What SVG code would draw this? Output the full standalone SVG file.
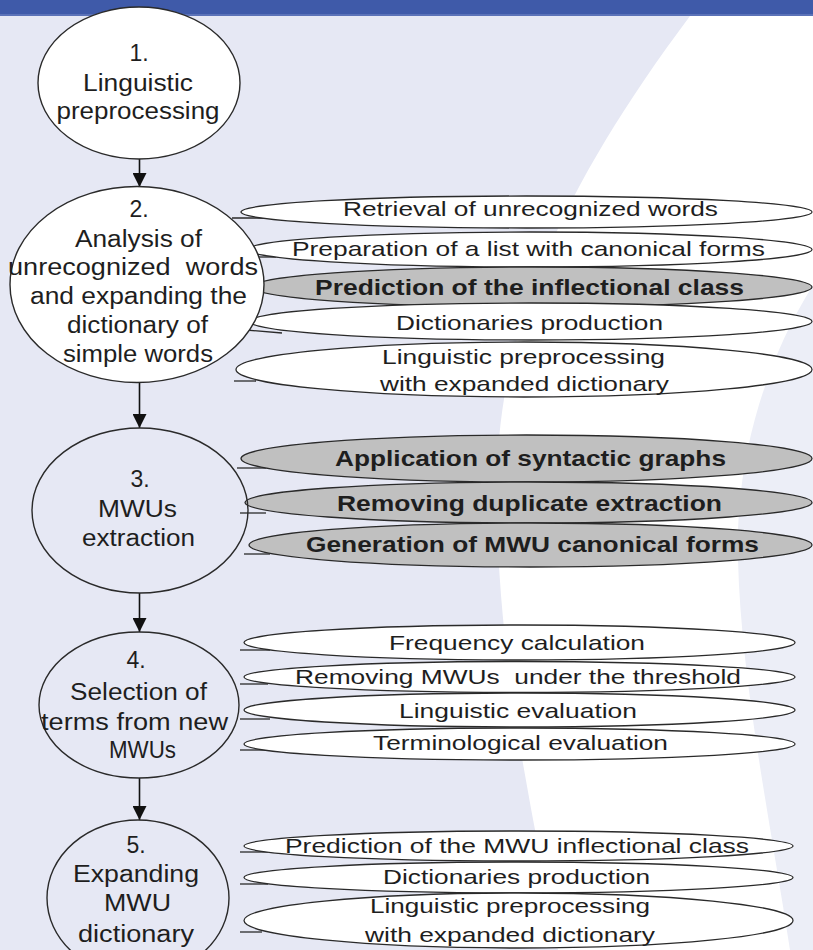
<svg xmlns="http://www.w3.org/2000/svg" width="813" height="950" viewBox="0 0 813 950">
<defs>
<style>
.ln{stroke:#2a2a2a;stroke-width:1.3}
.big{stroke:#2a2a2a;stroke-width:1.4}
.w{fill:#fff}
.n{fill:none}
.g{fill:#c0c0c0}
text{font-family:"Liberation Sans",Arial,sans-serif;fill:#1e1e1e;text-anchor:middle}
.t22{font-size:23px}
.t20{font-size:21px}
.b21{font-size:22px;font-weight:bold}
.conn{stroke:#111;stroke-width:1.6;fill:none}
.tail{stroke:#2a2a2a;stroke-width:1.3;fill:none}
</style>
<marker id="arr" viewBox="0 0 10 10" refX="10" refY="5" markerWidth="14" markerHeight="14" markerUnits="userSpaceOnUse" orient="auto"><path d="M0,0 L10,5 L0,10 z" fill="#111"/></marker>
</defs>

<g id="background">
<rect x="0" y="0" width="813" height="950" fill="#e6e8f4"/>
<path d="M690,16 L813,16 L813,950 L558,950 C530,800 495,650 497,480 C499,330 560,190 690,16 Z" fill="#ffffff"/>
<path d="M813,285 C760,370 735,470 738,560 C741,680 770,820 790,950 L813,950 Z" fill="#eceef7"/>
<rect x="0" y="0" width="813" height="15" fill="#3f5aa9"/>
<rect x="0" y="14" width="813" height="2" fill="#5b72b8"/>
</g>

<g id="connectors">
<line class="conn" x1="139.5" y1="159" x2="139.5" y2="187" marker-end="url(#arr)"/>
<line class="conn" x1="139.5" y1="383" x2="139.5" y2="428" marker-end="url(#arr)"/>
<line class="conn" x1="139.5" y1="593" x2="139.5" y2="632" marker-end="url(#arr)"/>
<line class="conn" x1="139.5" y1="778" x2="139.5" y2="820" marker-end="url(#arr)"/>
<line class="tail" x1="232" y1="218" x2="266" y2="218"/>
<line class="tail" x1="250" y1="257" x2="276" y2="257"/>
<line class="tail" x1="246" y1="330" x2="282" y2="333"/>
<line class="tail" x1="234" y1="381" x2="256" y2="381"/>
<line class="tail" x1="237" y1="468" x2="266" y2="468"/>
<line class="tail" x1="240" y1="513" x2="266" y2="513"/>
<line class="tail" x1="244" y1="554" x2="270" y2="554"/>
<line class="tail" x1="240" y1="650" x2="270" y2="650"/>
<line class="tail" x1="240" y1="684" x2="268" y2="684"/>
<line class="tail" x1="240" y1="719" x2="270" y2="719"/>
<line class="tail" x1="240" y1="750" x2="268" y2="750"/>
<line class="tail" x1="240" y1="852" x2="268" y2="852"/>
<line class="tail" x1="240" y1="884" x2="268" y2="884"/>
<line class="tail" x1="240" y1="932" x2="262" y2="932"/>
</g>

<g id="s2a"><ellipse class="ln w" cx="526.5" cy="212" rx="285.5" ry="16"/><text class="t20" x="530.5" y="216" textLength="375" lengthAdjust="spacingAndGlyphs">Retrieval of unrecognized words</text></g>
<g id="s2b"><ellipse class="ln w" cx="530" cy="249.5" rx="282" ry="17.5"/><text class="t20" x="528.5" y="256" textLength="473" lengthAdjust="spacingAndGlyphs">Preparation of a list with canonical forms</text></g>
<g id="s2c"><ellipse class="ln g" cx="532" cy="287" rx="280" ry="20"/><text class="b21" x="529.5" y="295" textLength="429" lengthAdjust="spacingAndGlyphs">Prediction of the inflectional class</text></g>
<g id="s2d"><ellipse class="ln w" cx="531" cy="321.5" rx="281" ry="18.5"/><text class="t20" x="529.5" y="330" textLength="267" lengthAdjust="spacingAndGlyphs">Dictionaries production</text></g>
<g id="s2e"><ellipse class="ln w" cx="524" cy="369.5" rx="288" ry="27.5"/><text class="t20" x="523.5" y="364" textLength="283" lengthAdjust="spacingAndGlyphs">Linguistic preprocessing</text><text class="t20" x="524.5" y="391" textLength="289" lengthAdjust="spacingAndGlyphs">with expanded dictionary</text></g>

<g id="s3a"><ellipse class="ln g" cx="526.5" cy="458.5" rx="285.5" ry="23.5"/><text class="b21" x="530.5" y="466" textLength="391" lengthAdjust="spacingAndGlyphs">Application of syntactic graphs</text></g>
<g id="s3b"><ellipse class="ln g" cx="528.5" cy="502.5" rx="283.5" ry="20.5"/><text class="b21" x="529.5" y="511" textLength="385" lengthAdjust="spacingAndGlyphs">Removing duplicate extraction</text></g>
<g id="s3c"><ellipse class="ln g" cx="530.5" cy="545" rx="281.5" ry="22"/><text class="b21" x="532.5" y="552" textLength="453" lengthAdjust="spacingAndGlyphs">Generation of MWU canonical forms</text></g>

<g id="s4a"><ellipse class="ln w" cx="519.5" cy="642.5" rx="275.5" ry="17.5"/><text class="t20" x="517" y="650" textLength="256" lengthAdjust="spacingAndGlyphs">Frequency calculation</text></g>
<g id="s4b"><ellipse class="ln w" cx="519.5" cy="677" rx="275.5" ry="15.5"/><text class="t20" x="518" y="684" textLength="446" lengthAdjust="spacingAndGlyphs" xml:space="preserve">Removing MWUs  under the threshold</text></g>
<g id="s4c"><ellipse class="ln w" cx="519.5" cy="710" rx="275.5" ry="17"/><text class="t20" x="518" y="718" textLength="238" lengthAdjust="spacingAndGlyphs">Linguistic evaluation</text></g>
<g id="s4d"><ellipse class="ln w" cx="519.5" cy="744" rx="275.5" ry="16"/><text class="t20" x="520.5" y="750" textLength="295" lengthAdjust="spacingAndGlyphs">Terminological evaluation</text></g>

<g id="s5a"><ellipse class="ln w" cx="518.5" cy="846" rx="274.5" ry="15"/><text class="t20" x="517" y="853" textLength="464" lengthAdjust="spacingAndGlyphs">Prediction of the MWU inflectional class</text></g>
<g id="s5b"><ellipse class="ln w" cx="518.5" cy="877.5" rx="274.5" ry="15.5"/><text class="t20" x="516.5" y="884" textLength="267" lengthAdjust="spacingAndGlyphs">Dictionaries production</text></g>
<g id="s5c"><ellipse class="ln w" cx="518.5" cy="920.5" rx="274.5" ry="27.5"/><text class="t20" x="510" y="913" textLength="280" lengthAdjust="spacingAndGlyphs">Linguistic preprocessing</text><text class="t20" x="510" y="942" textLength="290" lengthAdjust="spacingAndGlyphs">with expanded dictionary</text></g>

<g id="node1"><ellipse class="big w" cx="139" cy="83" rx="101" ry="76"/>
<text class="t22" x="139" y="61">1.</text>
<text class="t22" x="138" y="91" textLength="110" lengthAdjust="spacingAndGlyphs">Linguistic</text>
<text class="t22" x="138" y="119" textLength="163" lengthAdjust="spacingAndGlyphs">preprocessing</text></g>

<g id="node2"><ellipse class="big w" cx="137" cy="284.5" rx="127" ry="98"/>
<text class="t22" x="139" y="217">2.</text>
<text class="t22" x="138.5" y="247" textLength="127" lengthAdjust="spacingAndGlyphs">Analysis of</text>
<text class="t22" x="133" y="275" textLength="250" lengthAdjust="spacingAndGlyphs" xml:space="preserve">unrecognized  words</text>
<text class="t22" x="138.5" y="304" textLength="217" lengthAdjust="spacingAndGlyphs">and expanding the</text>
<text class="t22" x="137.5" y="333" textLength="141" lengthAdjust="spacingAndGlyphs">dictionary of</text>
<text class="t22" x="138" y="362" textLength="150" lengthAdjust="spacingAndGlyphs">simple words</text></g>

<g id="node3"><ellipse class="big n" cx="140" cy="510.5" rx="108" ry="82.5"/>
<text class="t22" x="140" y="487">3.</text>
<text class="t22" x="137.5" y="517" textLength="79" lengthAdjust="spacingAndGlyphs">MWUs</text>
<text class="t22" x="138.5" y="546" textLength="113" lengthAdjust="spacingAndGlyphs">extraction</text></g>

<g id="node4"><ellipse class="big n" cx="139" cy="705" rx="100" ry="73"/>
<text class="t22" x="136" y="668">4.</text>
<text class="t22" x="138.5" y="700" textLength="137" lengthAdjust="spacingAndGlyphs">Selection of</text>
<text class="t22" x="134.5" y="730" textLength="187" lengthAdjust="spacingAndGlyphs">terms from new</text>
<text class="t22" x="142.5" y="758" textLength="67" lengthAdjust="spacingAndGlyphs">MWUs</text></g>

<g id="node5"><ellipse class="big n" cx="138" cy="898" rx="91" ry="78"/>
<text class="t22" x="136" y="853">5.</text>
<text class="t22" x="136" y="882" textLength="126" lengthAdjust="spacingAndGlyphs">Expanding</text>
<text class="t22" x="137.5" y="911" textLength="67" lengthAdjust="spacingAndGlyphs">MWU</text>
<text class="t22" x="136" y="942" textLength="116" lengthAdjust="spacingAndGlyphs">dictionary</text></g>
</svg>
